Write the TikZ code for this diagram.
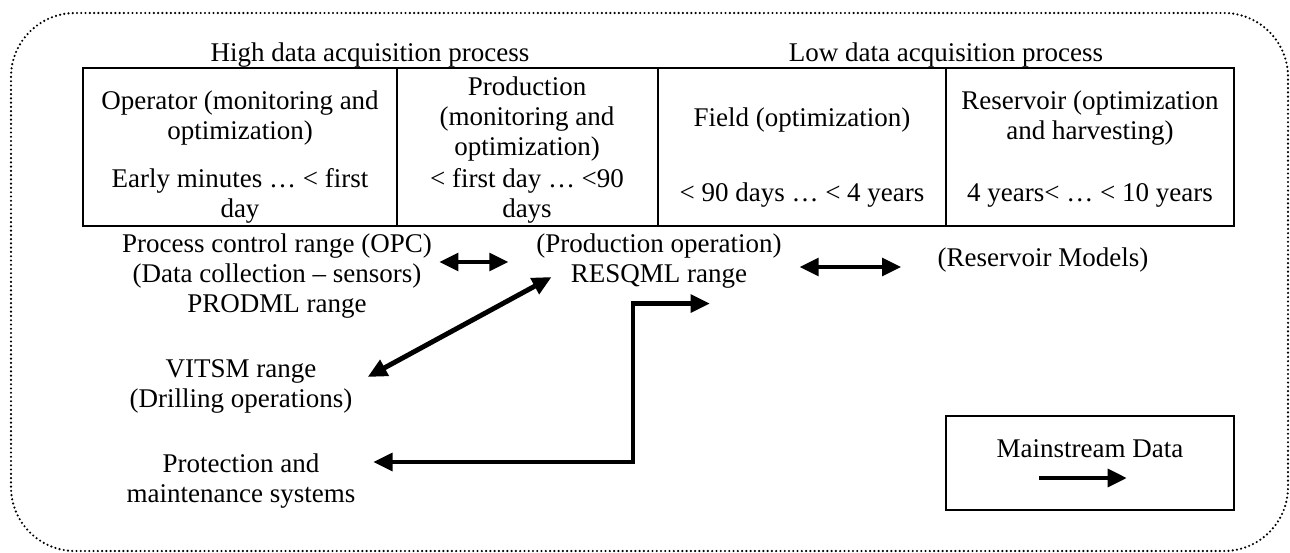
\documentclass[tikz,border=0pt]{standalone}
\usepackage{fontspec}
\setmainfont{Liberation Serif}
\usetikzlibrary{arrows.meta}
\begin{document}
\begin{tikzpicture}[x=0.75pt,y=-0.75pt,
  txt/.style={inner sep=0pt, align=center, font=\fontsize{20.25pt}{22.5pt}\selectfont},
  grid/.style={line width=1.1pt},
  conn/.style={line width=3.7pt},
  >={Triangle[length=14.5pt,width=13pt]}]
\useasboundingbox (0,0) rectangle (1290,553);
% dotted rounded frame
\draw[line width=1.8pt, dash pattern=on 0pt off 3.2pt, line cap=round, rounded corners=48pt]
  (11,13) rectangle (1288,551);
% headers
\node[txt] (hi) at (370,55.5) {High data acquisition process};
\node[txt] (lo) at (946,55.5) {Low data acquisition process};
% table
\draw[grid] (83,68) rectangle (1234,226);
\draw[grid] (397,68) -- (397,226);
\draw[grid] (658,68) -- (658,226);
\draw[grid] (946,68) -- (946,226);
\node[txt] (c11) at (240,118) {Operator (monitoring and\\optimization)};
\node[txt] (c12) at (527,119) {Production\\(monitoring and\\optimization)};
\node[txt] (c13) at (802,120) {Field (optimization)};
\node[txt] (c14) at (1090,118) {Reservoir (optimization\\and harvesting)};
\node[txt] (c21) at (240,196) {Early minutes … < first\\day};
\node[txt] (c22) at (527,196) {< first day … <90\\days};
\node[txt] (c23) at (802,195) {< 90 days … < 4 years};
\node[txt] (c24) at (1090,195) {4 years< … < 10 years};
% lower nodes
\node[txt] (pcr) at (277,276) {Process control range (OPC)\\(Data collection – sensors)\\PRODML range};
\node[txt] (prod) at (659,261) {(Production operation)\\RESQML range};
\node[txt] (res) at (1043,260) {(Reservoir Models)};
\node[txt] (vit) at (241,386) {VITSM range\\(Drilling operations)};
\node[txt] (prot) at (241,481) {Protection and\\maintenance systems};
% connectors
\draw[conn,<->] ([shift={(7,-14)}]pcr.east) -- ([shift={(-27.5,1)}]prod.west);
\draw[conn,<->] ([shift={(17.5,6)}]prod.east) -- ([shift={(-36,7)}]res.west);
\draw[conn,<->] ([shift={(15.5,16)}]prod.west) -- ([shift={(15,-9)}]vit.east);
\draw[conn,<->] ([shift={(17.6,-19)}]prot.east) -| ([shift={(-26,15)}]prod.south) -- ([shift={(51,15)}]prod.south);
% legend
\node[grid, draw, minimum width=216pt, minimum height=70.5pt, inner sep=0pt] (legend) at (1090,463) {};
\node[txt] (legtxt) at (1090,449) {Mainstream Data};
\draw[conn,->] ([shift={(-51,15)}]legend.center) -- ([shift={(37,15)}]legend.center);
\end{tikzpicture}
\end{document}
